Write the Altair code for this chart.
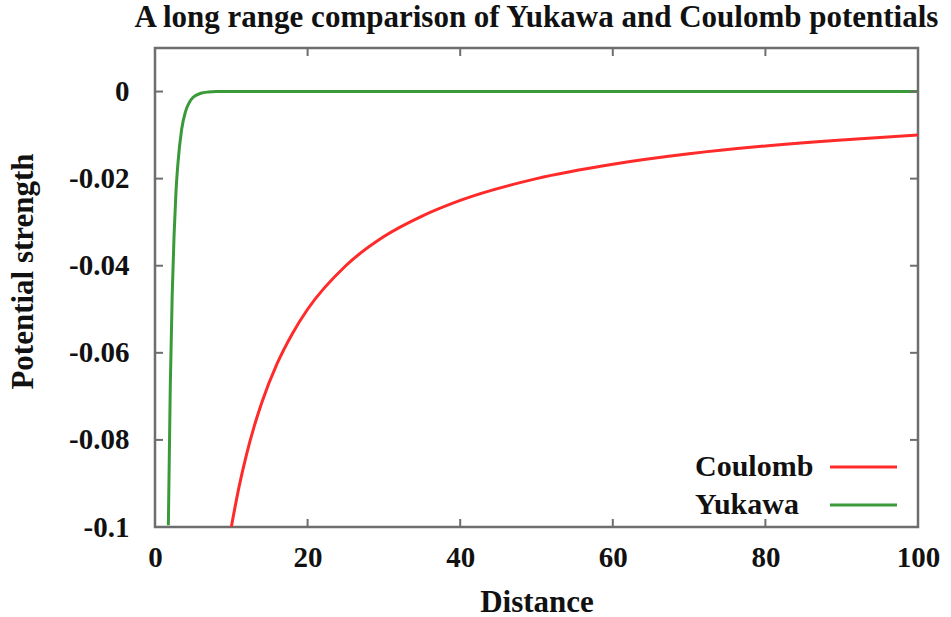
import altair as alt
import pandas as pd

# Coulomb potential (distance, strength)
coulomb_x = [10, 11, 12, 13, 14, 16, 18, 20, 25, 30, 35, 40, 50, 60, 70, 80, 90, 100]
coulomb_y = [-0.1, -0.0909, -0.0833, -0.0769, -0.0714, -0.0625, -0.0556, -0.05, -0.04,
             -0.0333, -0.0286, -0.025, -0.02, -0.0167, -0.0143, -0.0125, -0.0111, -0.01]

# Yukawa potential: steep rise near the origin, flat at zero afterwards
yukawa_x = [1.75, 2.0, 2.25, 2.5, 2.75, 3.0, 3.5, 4.0, 4.5, 5.0, 6.0, 7.0, 8.0, 100]
yukawa_y = [-0.0996, -0.068, -0.047, -0.033, -0.023, -0.0166, -0.0086, -0.0046,
            -0.0025, -0.0013, -0.0004, -0.0001, 0.0, 0.0]

series_names = ["Coulomb", "Yukawa"]
series_colors = ["#ff2a2a", "#3a9a3a"]

x_ticks = [0, 20, 40, 60, 80, 100]
y_ticks = [0, -0.02, -0.04, -0.06, -0.08, -0.1]

W, H = 763, 479
FONT = "Liberation Serif"
INK = "#111111"
FRAME = "#6e6e6e"
TICK_LEN = 8

curves = pd.concat([
    pd.DataFrame({"distance": coulomb_x, "strength": coulomb_y, "series": "Coulomb"}),
    pd.DataFrame({"distance": yukawa_x, "strength": yukawa_y, "series": "Yukawa"}),
])

x_scale = alt.Scale(domain=[0, 100], nice=False, zero=False)
y_scale = alt.Scale(domain=[-0.1, 0.01], nice=False, zero=False)
color_scale = alt.Scale(domain=series_names, range=series_colors)

text_style = dict(labelFont=FONT, labelFontSize=29, labelFontWeight="bold", labelColor=INK,
                  titleFont=FONT, titleFontSize=31, titleFontWeight="bold", titleColor=INK)

x_axis = alt.Axis(values=x_ticks, title="Distance", grid=False, domain=False, ticks=False,
                  labelPadding=16, titlePadding=15, format="d", labelFlush=False, **text_style)
y_axis = alt.Axis(values=y_ticks, title="Potential strength", grid=False, domain=False,
                  ticks=False, labelPadding=26, titlePadding=29, format="~g",
                  labelExpr="replace(datum.label, '\u2212', '-')", titleY=223,
                  labelFlush=False, **text_style)

lines = alt.Chart(curves).mark_line(strokeWidth=3, interpolate="monotone", clip=True).encode(
    x=alt.X("distance:Q", scale=x_scale, axis=x_axis),
    y=alt.Y("strength:Q", scale=y_scale, axis=y_axis),
    color=alt.Color("series:N", scale=color_scale, legend=None),
)

# Key in the lower right corner: name first, then a sample of the line
key = pd.DataFrame({"series": series_names, "row": [0, 1]})
key_y = alt.Y("row:Q", scale=alt.Scale(domain=[0, 1], range=[419, 457], nice=False), axis=None)
key_text = alt.Chart(key).mark_text(
    align="left", baseline="middle", font=FONT, fontSize=30, fontWeight="bold", color=INK
).encode(x=alt.value(540), y=key_y, text="series:N")
key_line = alt.Chart(key).mark_rule(strokeWidth=3).encode(
    x=alt.value(675), x2=alt.value(742), y=key_y,
    color=alt.Color("series:N", scale=color_scale, legend=None))

xt = pd.DataFrame({"v": x_ticks[1:-1]})
yt = pd.DataFrame({"v": y_ticks[:-1]})
tick_style = dict(color=FRAME, strokeWidth=2)

x_bottom = alt.Chart(xt).mark_rule(**tick_style).encode(
    x=alt.X("v:Q", scale=x_scale), y=alt.value(H), y2=alt.value(H - TICK_LEN))
x_top = alt.Chart(xt).mark_rule(**tick_style).encode(
    x=alt.X("v:Q", scale=x_scale), y=alt.value(0), y2=alt.value(TICK_LEN))
y_left = alt.Chart(yt).mark_rule(**tick_style).encode(
    y=alt.Y("v:Q", scale=y_scale, axis=None), x=alt.value(0), x2=alt.value(TICK_LEN))
y_right = alt.Chart(yt).mark_rule(**tick_style).encode(
    y=alt.Y("v:Q", scale=y_scale, axis=None), x=alt.value(W), x2=alt.value(W - TICK_LEN))

chart = alt.layer(lines, x_bottom, x_top, y_left, y_right, key_text, key_line).resolve_scale(
    y="independent"
).properties(
    width=W, height=H,
    background="white",
    title=alt.Title("A long range comparison of Yukawa and Coulomb potentials",
                    font=FONT, fontSize=31, fontWeight="bold", color=INK,
                    anchor="middle", offset=13),
    autosize=alt.AutoSizeParams(type="none"),
    padding={"left": 155, "top": 48, "right": 33, "bottom": 90},
).configure_view(
    stroke=FRAME, strokeWidth=2.5
)

chart.save("out.html", embed_options={"renderer": "svg", "actions": False})
